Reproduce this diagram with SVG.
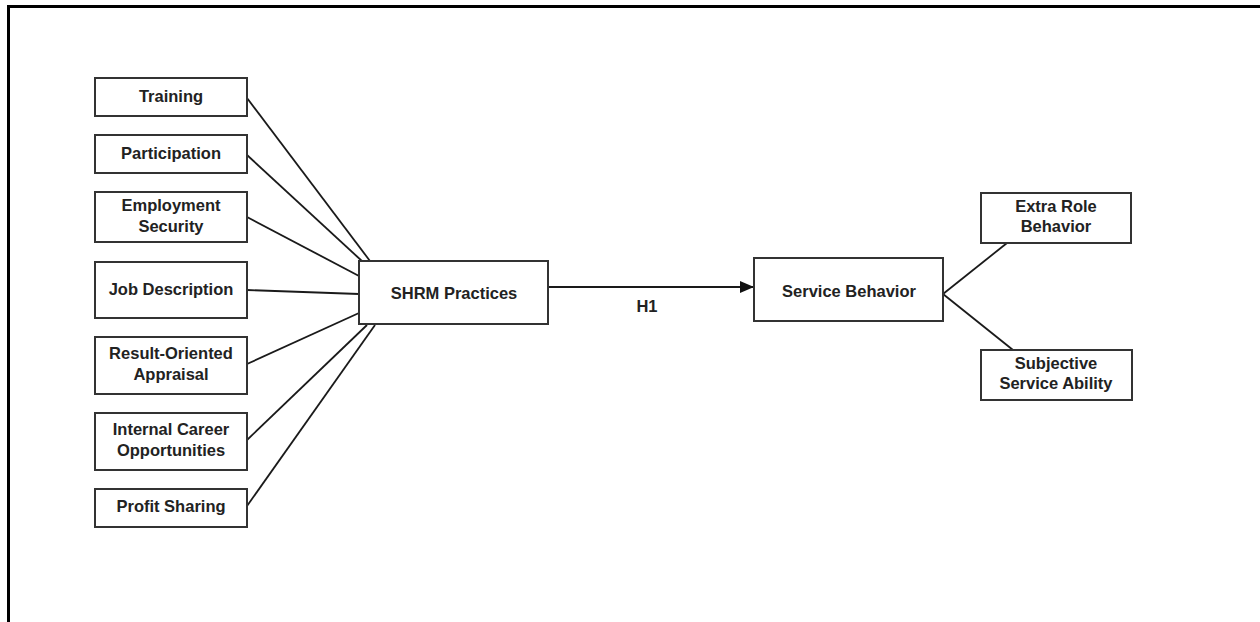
<svg xmlns="http://www.w3.org/2000/svg" width="1260" height="622" viewBox="0 0 1260 622">
<defs>
<style>
.box{fill:#fff;stroke:#333;stroke-width:2}
.t{font-family:"Liberation Sans",Arial,sans-serif;font-weight:bold;font-size:16.5px;fill:#222;text-anchor:middle}
.c{stroke:#1a1a1a;stroke-width:1.8;fill:none}
</style>
<marker id="arr" markerWidth="14" markerHeight="12" refX="14" refY="6" orient="auto" markerUnits="userSpaceOnUse">
<path d="M0,0 L14,6 L0,12 Z" fill="#111"/>
</marker>
</defs>
<rect x="0" y="0" width="1260" height="622" fill="#fff"/>
<path d="M8.5,622 L8.5,6.5 L1260,6.5" fill="none" stroke="#000" stroke-width="3"/>
<g id="connectors">
<line class="c" x1="247" y1="98" x2="370" y2="261"/>
<line class="c" x1="247" y1="155" x2="363" y2="262"/>
<line class="c" x1="247" y1="217" x2="359" y2="276"/>
<line class="c" x1="247" y1="290" x2="359" y2="294"/>
<line class="c" x1="247" y1="364" x2="359" y2="313"/>
<line class="c" x1="247" y1="440" x2="367" y2="325"/>
<line class="c" x1="247" y1="506" x2="375" y2="325"/>
<line class="c" x1="548" y1="287" x2="754" y2="287" marker-end="url(#arr)"/>
<line class="c" x1="943" y1="294" x2="1007" y2="243"/>
<line class="c" x1="943" y1="294" x2="1013" y2="350"/>
<text class="t" x="647" y="312">H1</text>
</g>
<g id="training"><rect class="box" x="95" y="78" width="152" height="38"/><text class="t" x="171" y="102">Training</text></g>
<g id="participation"><rect class="box" x="95" y="135" width="152" height="38"/><text class="t" x="171" y="159">Participation</text></g>
<g id="employment-security"><rect class="box" x="95" y="192" width="152" height="50"/><text class="t" x="171" y="211">Employment</text><text class="t" x="171" y="232">Security</text></g>
<g id="job-description"><rect class="box" x="95" y="262" width="152" height="56"/><text class="t" x="171" y="295">Job Description</text></g>
<g id="result-oriented-appraisal"><rect class="box" x="95" y="337" width="152" height="57"/><text class="t" x="171" y="359">Result-Oriented</text><text class="t" x="171" y="380">Appraisal</text></g>
<g id="internal-career"><rect class="box" x="95" y="413" width="152" height="57"/><text class="t" x="171" y="435">Internal Career</text><text class="t" x="171" y="456">Opportunities</text></g>
<g id="profit-sharing"><rect class="box" x="95" y="489" width="152" height="38"/><text class="t" x="171" y="512">Profit Sharing</text></g>
<g id="shrm-practices"><rect class="box" x="359" y="261" width="189" height="63"/><text class="t" x="454" y="299">SHRM Practices</text></g>
<g id="service-behavior"><rect class="box" x="754" y="258" width="189" height="63"/><text class="t" x="849" y="297">Service Behavior</text></g>
<g id="extra-role-behavior"><rect class="box" x="981" y="193" width="150" height="50"/><text class="t" x="1056" y="212">Extra Role</text><text class="t" x="1056" y="232">Behavior</text></g>
<g id="subjective-service-ability"><rect class="box" x="981" y="350" width="151" height="50"/><text class="t" x="1056" y="369">Subjective</text><text class="t" x="1056" y="389">Service Ability</text></g>
</svg>
